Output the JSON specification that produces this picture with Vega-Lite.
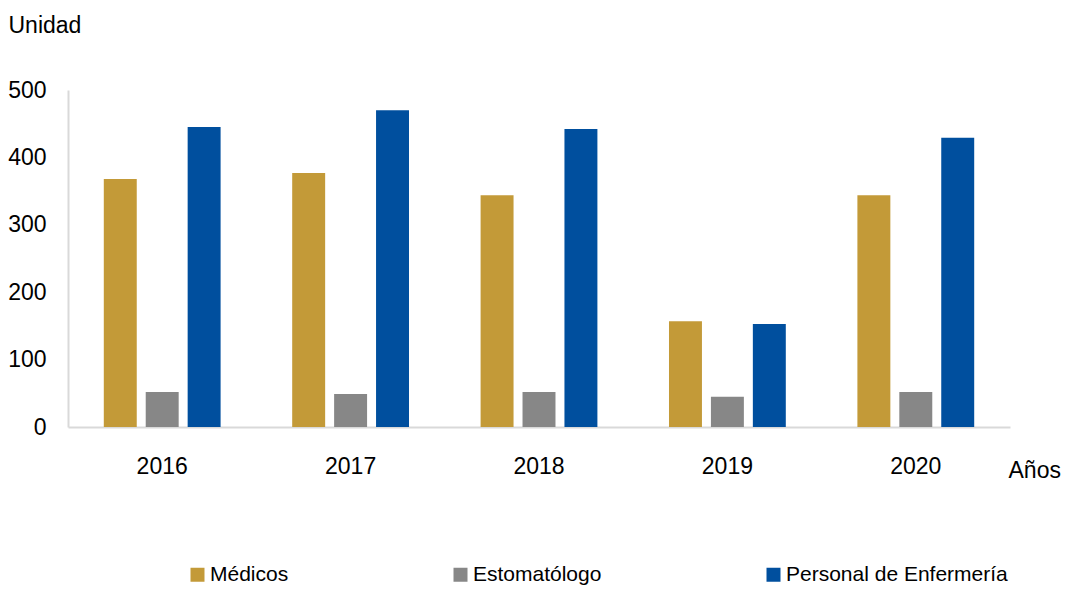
{
  "$schema": "https://vega.github.io/schema/vega-lite/v6.json",
  "width": 942,
  "height": 337,
  "autosize": {"type": "none"},
  "padding": {"left": 68, "top": 90, "right": 56, "bottom": 162},
  "background": "white",
  "config": {
    "font": "Liberation Sans",
    "view": {"stroke": null}
  },
  "data": {
    "values": [
      {"anio": "2016", "serie": "Médicos", "valor": 368},
      {"anio": "2016", "serie": "Estomatólogo", "valor": 52},
      {"anio": "2016", "serie": "Personal de Enfermería", "valor": 445},
      {"anio": "2017", "serie": "Médicos", "valor": 377},
      {"anio": "2017", "serie": "Estomatólogo", "valor": 49},
      {"anio": "2017", "serie": "Personal de Enfermería", "valor": 470},
      {"anio": "2018", "serie": "Médicos", "valor": 344},
      {"anio": "2018", "serie": "Estomatólogo", "valor": 52},
      {"anio": "2018", "serie": "Personal de Enfermería", "valor": 442},
      {"anio": "2019", "serie": "Médicos", "valor": 157},
      {"anio": "2019", "serie": "Estomatólogo", "valor": 45},
      {"anio": "2019", "serie": "Personal de Enfermería", "valor": 153},
      {"anio": "2020", "serie": "Médicos", "valor": 344},
      {"anio": "2020", "serie": "Estomatólogo", "valor": 52},
      {"anio": "2020", "serie": "Personal de Enfermería", "valor": 429}
    ]
  },
  "mark": {"type": "bar"},
  "encoding": {
    "x": {
      "field": "anio",
      "type": "nominal",
      "scale": {"paddingInner": 0.38, "paddingOuter": 0.19},
      "axis": {
        "title": "Años",
        "titleAngle": 0,
        "titleX": 940,
        "titleY": 43,
        "titleAlign": "left",
        "titleBaseline": "middle",
        "titleFontSize": 23,
        "titleFontWeight": "normal",
        "titleColor": "#000000",
        "labelAngle": 0,
        "labelFontSize": 23,
        "labelColor": "#000000",
        "labelPadding": 28,
        "ticks": false,
        "domainColor": "#D9D9D9",
        "domainWidth": 2
      }
    },
    "xOffset": {
      "field": "serie",
      "type": "nominal",
      "sort": ["Médicos", "Estomatólogo", "Personal de Enfermería"],
      "scale": {"paddingInner": 0.214, "paddingOuter": 0}
    },
    "y": {
      "field": "valor",
      "type": "quantitative",
      "scale": {"domain": [0, 500]},
      "axis": {
        "values": [0, 100, 200, 300, 400, 500],
        "title": "Unidad",
        "titleAngle": 0,
        "titleX": -60,
        "titleY": -65,
        "titleAlign": "left",
        "titleBaseline": "middle",
        "titleFontSize": 23,
        "titleFontWeight": "normal",
        "titleColor": "#000000",
        "labelFontSize": 23,
        "labelColor": "#000000",
        "labelPadding": 22,
        "ticks": false,
        "grid": false,
        "domainColor": "#D9D9D9",
        "domainWidth": 2
      }
    },
    "color": {
      "field": "serie",
      "type": "nominal",
      "sort": ["Médicos", "Estomatólogo", "Personal de Enfermería"],
      "scale": {
        "domain": ["Médicos", "Estomatólogo", "Personal de Enfermería"],
        "range": ["#C39A38", "#878787", "#004F9E"]
      },
      "legend": {
        "title": null,
        "orient": "none",
        "legendX": 119,
        "legendY": 474,
        "direction": "horizontal",
        "columns": 3,
        "columnPadding": 161,
        "symbolType": "square",
        "symbolSize": 196,
        "symbolStrokeWidth": 0,
        "labelFontSize": 21,
        "labelLimit": 500,
        "labelColor": "#000000",
        "labelOffset": 2
      }
    }
  }
}
